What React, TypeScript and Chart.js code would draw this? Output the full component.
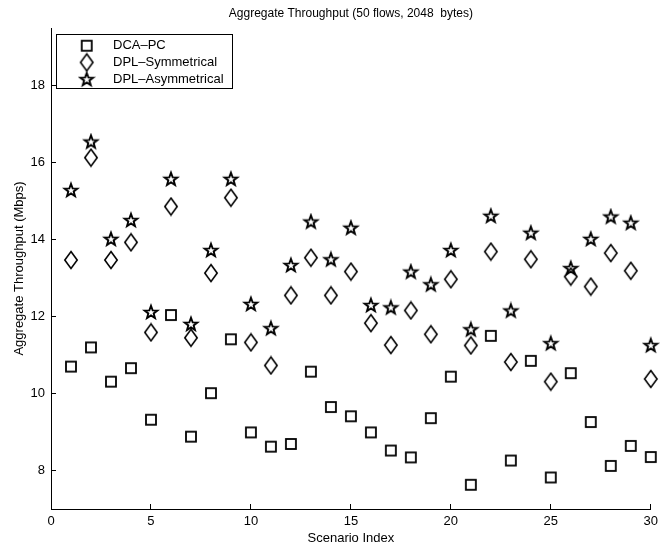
import { useEffect, useRef } from 'react';
import { Chart, registerables } from 'chart.js';

Chart.register(...registerables);

// Scenario indices on the x axis
const scenarios = [
  1, 2, 3, 4, 5, 6, 7, 8, 9, 10, 11, 12, 13, 14, 15,
  16, 17, 18, 19, 20, 21, 22, 23, 24, 25, 26, 27, 28, 29, 30,
];

// Aggregate throughput per scenario (Mbps)
const dcaPc = [
  10.70, 11.20, 10.31, 10.66, 9.32, 12.04, 8.88, 10.01, 11.41, 8.99,
  8.62, 8.69, 10.57, 9.65, 9.41, 8.99, 8.52, 8.34, 9.36, 10.44,
  7.63, 11.50, 8.26, 10.85, 7.82, 10.53, 9.26, 8.12, 8.64, 8.35,
];
const dplSymmetrical = [
  13.47, 16.13, 13.47, 13.93, 11.59, 14.86, 11.45, 13.13, 15.09, 11.33,
  10.73, 12.55, 13.53, 12.55, 13.17, 11.83, 11.26, 12.16, 11.54, 12.97,
  11.25, 13.69, 10.82, 13.49, 10.31, 13.04, 12.78, 13.65, 13.19, 10.38,
];
const dplAsymmetrical = [
  15.29, 16.55, 14.02, 14.51, 12.12, 15.58, 11.81, 13.73, 15.58, 12.33,
  11.70, 13.34, 14.47, 13.49, 14.31, 12.30, 12.24, 13.17, 12.84, 13.73,
  11.67, 14.62, 12.16, 14.18, 11.31, 13.26, 14.02, 14.60, 14.44, 11.26,
];

const seriesNames = ['DCA\u2013PC', 'DPL\u2013Symmetrical', 'DPL\u2013Asymmetrical'];
const xTickValues = [0, 5, 10, 15, 20, 25, 30];
const yTickValues = [8, 10, 12, 14, 16, 18];
const chartTitle = 'Aggregate Throughput (50 flows, 2048  bytes)';
const xAxisTitle = 'Scenario Index';
const yAxisTitle = 'Aggregate Throughput (Mbps)';

const FONT = '"Liberation Sans", Arial, Helvetica, sans-serif';
const INK = '#000';

function makeCanvas(w: number, h: number) {
  const c = document.createElement('canvas');
  c.width = w;
  c.height = h;
  return c;
}

function squareMarker() {
  const c = makeCanvas(14, 14);
  const ctx = c.getContext('2d')!;
  ctx.strokeStyle = INK;
  ctx.lineWidth = 1.8;
  ctx.strokeRect(2, 2, 10, 10);
  return c;
}

function diamondMarker() {
  const c = makeCanvas(16, 20);
  const ctx = c.getContext('2d')!;
  ctx.strokeStyle = INK;
  ctx.lineWidth = 1.6;
  ctx.lineJoin = 'miter';
  ctx.beginPath();
  ctx.moveTo(8, 1.6);
  ctx.lineTo(14.2, 10);
  ctx.lineTo(8, 18.4);
  ctx.lineTo(1.8, 10);
  ctx.closePath();
  ctx.stroke();
  return c;
}

function starMarker() {
  const c = makeCanvas(18, 18);
  const ctx = c.getContext('2d')!;
  ctx.strokeStyle = INK;
  ctx.lineWidth = 1.9;
  ctx.lineJoin = 'miter';
  const cx = 9;
  const cy = 9.6;
  const outer = 6.8;
  const inner = 2.8;
  ctx.beginPath();
  for (let k = 0; k < 10; k++) {
    const r = k % 2 === 0 ? outer : inner;
    const a = -Math.PI / 2 + (k * Math.PI) / 5;
    const px = cx + r * Math.cos(a);
    const py = cy + r * Math.sin(a);
    if (k === 0) ctx.moveTo(px, py);
    else ctx.lineTo(px, py);
  }
  ctx.closePath();
  ctx.stroke();
  return c;
}

export default function App() {
  const canvasRef = useRef<HTMLCanvasElement | null>(null);

  useEffect(() => {
    const canvas = canvasRef.current;
    if (!canvas) return;

    const markers = [squareMarker(), diamondMarker(), starMarker()];
    const series = [dcaPc, dplSymmetrical, dplAsymmetrical];

    const overlay = {
      id: 'titleAndLegend',
      afterDraw(chart: any) {
        const ctx = chart.ctx as CanvasRenderingContext2D;
        const area = chart.chartArea;
        ctx.save();
        // title
        ctx.fillStyle = INK;
        ctx.font = `12px ${FONT}`;
        ctx.textAlign = 'center';
        ctx.textBaseline = 'middle';
        ctx.fillText(chartTitle, (area.left + area.right) / 2, 14);

        // legend box
        const bx = 56.5;
        const by = 34.5;
        const bw = 176;
        const bh = 54;
        ctx.fillStyle = '#fff';
        ctx.fillRect(bx, by, bw, bh);
        ctx.strokeStyle = INK;
        ctx.lineWidth = 1;
        ctx.strokeRect(bx, by, bw, bh);
        ctx.font = `13px ${FONT}`;
        ctx.textAlign = 'left';
        ctx.fillStyle = INK;
        chart.data.datasets.forEach((ds: any, i: number) => {
          const ry = 45.7 + i * 16.7;
          const m = markers[i];
          ctx.drawImage(m, 86.7 - m.width / 2, ry - m.height / 2);
          ctx.fillText(ds.label, 113, ry);
        });
        ctx.restore();
      },
    };

    const chart = new Chart(canvas, {
      type: 'scatter',
      data: {
        datasets: series.map((vals, i) => ({
          label: seriesNames[i],
          data: scenarios.map((s, j) => ({ x: s, y: vals[j] })),
          pointStyle: markers[i] as any,
          pointRadius: 7,
          showLine: false,
          clip: false as any,
        })),
      },
      options: {
        animation: false,
        responsive: false,
        devicePixelRatio: 1,
        layout: { padding: { left: 0, right: 8, top: 28, bottom: 0 } },
        plugins: {
          legend: { display: false },
          title: { display: false },
          tooltip: { enabled: false },
        },
        scales: {
          x: {
            type: 'linear',
            min: 0,
            max: 30,
            afterFit: (scale: any) => {
              scale.height = 37;
            },
            afterBuildTicks: (scale: any) => {
              scale.ticks = xTickValues.map((v) => ({ value: v }));
            },
            grid: {
              drawOnChartArea: false,
              drawTicks: true,
              tickLength: -5,
              color: INK,
              lineWidth: 1,
            },
            border: { display: true, color: INK, width: 1 },
            ticks: {
              color: INK,
              font: { family: FONT, size: 13 },
              padding: 10,
              maxRotation: 0,
              autoSkip: false,
            },
            title: {
              display: true,
              text: xAxisTitle,
              color: INK,
              font: { family: FONT, size: 13 },
              padding: { top: 0, bottom: 0 },
            },
          },
          y: {
            type: 'linear',
            min: 7,
            max: 19.5,
            afterFit: (scale: any) => {
              scale.width = 51;
            },
            afterBuildTicks: (scale: any) => {
              scale.ticks = yTickValues.map((v) => ({ value: v }));
            },
            grid: {
              drawOnChartArea: false,
              drawTicks: true,
              tickLength: -5,
              color: INK,
              lineWidth: 1,
            },
            border: { display: true, color: INK, width: 1 },
            ticks: {
              color: INK,
              font: { family: FONT, size: 13 },
              padding: 11,
              autoSkip: false,
            },
            title: {
              display: true,
              text: yAxisTitle,
              color: INK,
              font: { family: FONT, size: 13 },
              padding: { top: 12, bottom: 0 },
            },
          },
        },
      },
      plugins: [overlay],
    });

    return () => {
      chart.destroy();
    };
  }, []);

  return (
    <div style={{ position: 'absolute', left: 0, top: 0, width: 668, height: 546, background: '#fff' }}>
      <canvas ref={canvasRef} width={668} height={546} style={{ width: 668, height: 546, display: 'block' }} />
    </div>
  );
}
